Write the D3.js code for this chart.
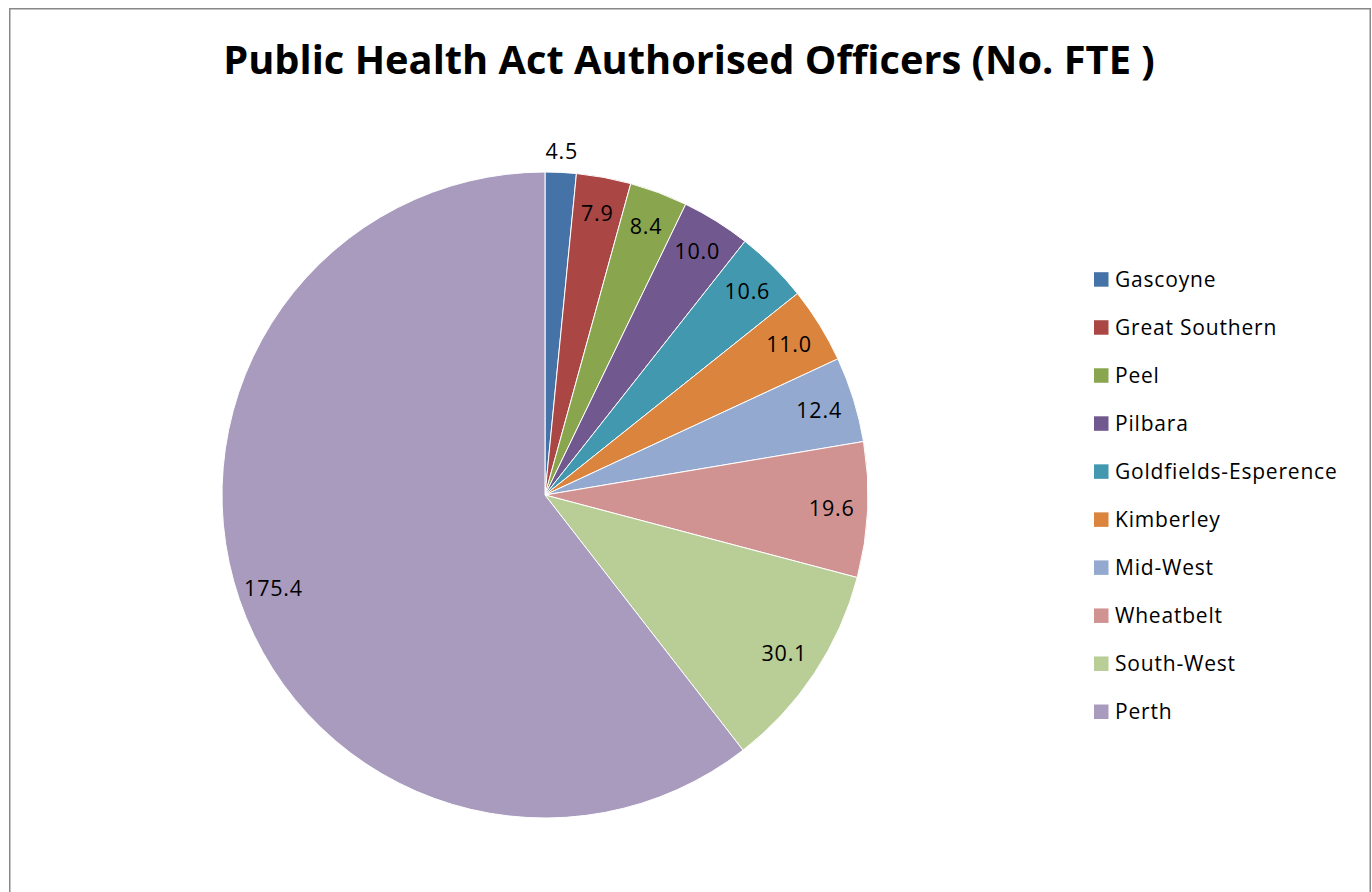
<!DOCTYPE html>
<html>
<head>
<meta charset="utf-8">
<script src="https://cdn.jsdelivr.net/npm/d3@7"></script>
<style>
  body { margin: 0; background: #fff; }
  text { font-family: "Open Sans", "Noto Sans", sans-serif; fill: #000; }
</style>
</head>
<body>
<div id="chart"></div>
<script>
const regions = ['Gascoyne', 'Great Southern', 'Peel', 'Pilbara', 'Goldfields-Esperence',
                 'Kimberley', 'Mid-West', 'Wheatbelt', 'South-West', 'Perth'];
const fte = [4.5, 7.9, 8.4, 10.0, 10.6, 11.0, 12.4, 19.6, 30.1, 175.4];
const colours = ['#4572A7', '#AA4643', '#89A54E', '#71588F', '#4198AF',
                 '#DB843D', '#93A9CF', '#D19392', '#B9CD96', '#A99BBD'];
const titleText = 'Public Health Act Authorised Officers (No. FTE )';

const width = 1372, height = 892;
const cx = 545, cy = 495, radius = 323;

const svg = d3.select('#chart')
              .append('svg')
              .attr('width', width)
              .attr('height', height);

// chart area border
svg.append('rect')
    .attr('x', 9.75)
    .attr('y', 8.75)
    .attr('width', 1360.5)
    .attr('height', 1000)
    .style('fill', 'none')
    .style('stroke', '#888')
    .style('stroke-width', 1.5);

// title, sized to the reference width
let title = svg.append('text')
            .attr('x', 689)
            .attr('y', 74)
            .style('text-anchor', 'middle')
            .style('font-weight', 'bold')
            .style('font-size', '40px')
            .text(titleText);
let tw = title.node().getComputedTextLength();
title.style('font-size', (40 * 932 / tw) + 'px');

let pie = d3.pie().sort(null).value(d => d.value);
let arcs = pie(regions.map((r, i) => ({name: r, value: fte[i], colour: colours[i]})));

let arc = d3.arc().innerRadius(0).outerRadius(radius);

let g = svg.append('g').attr('transform', 'translate(' + cx + ',' + cy + ')');

g.selectAll('path')
    .data(arcs)
    .enter()
    .append('path')
    .attr('d', arc)
    .style('fill', d => d.data.colour)
    .style('stroke', '#fff')
    .style('stroke-width', 1);

// data labels along each bisector; the thin first slice goes outside
g.selectAll('.lbl')
    .data(arcs)
    .enter()
    .append('text')
    .attr('class', 'lbl')
    .attr('transform', (d, i) => {
        let r = i == 0 ? 344 : 287;
        let a = (d.startAngle + d.endAngle) / 2;
        return 'translate(' + (r * Math.sin(a)) + ',' + (-r * Math.cos(a)) + ')';
    })
    .attr('dy', '0.36em')
    .style('text-anchor', 'middle')
    .style('font-size', '21.5px')
    .style('letter-spacing', '0.8px')
    .text(d => d.data.value.toFixed(1));

// legend
let legendY = d3.scalePoint().domain(regions).range([286.7, 719]);

let legend = svg.append('g');

let items = legend.selectAll('g')
    .data(regions)
    .enter()
    .append('g')
    .attr('transform', d => 'translate(0,' + legendY(d) + ')');

items.append('rect')
    .attr('x', 1094)
    .attr('y', -14.5)
    .attr('width', 14.5)
    .attr('height', 14.5)
    .style('fill', (d, i) => colours[i]);

items.append('text')
    .attr('x', 1115)
    .attr('y', 0)
    .style('font-size', '21px')
    .style('letter-spacing', '0.8px')
    .text(d => d);
</script>
</body>
</html>
